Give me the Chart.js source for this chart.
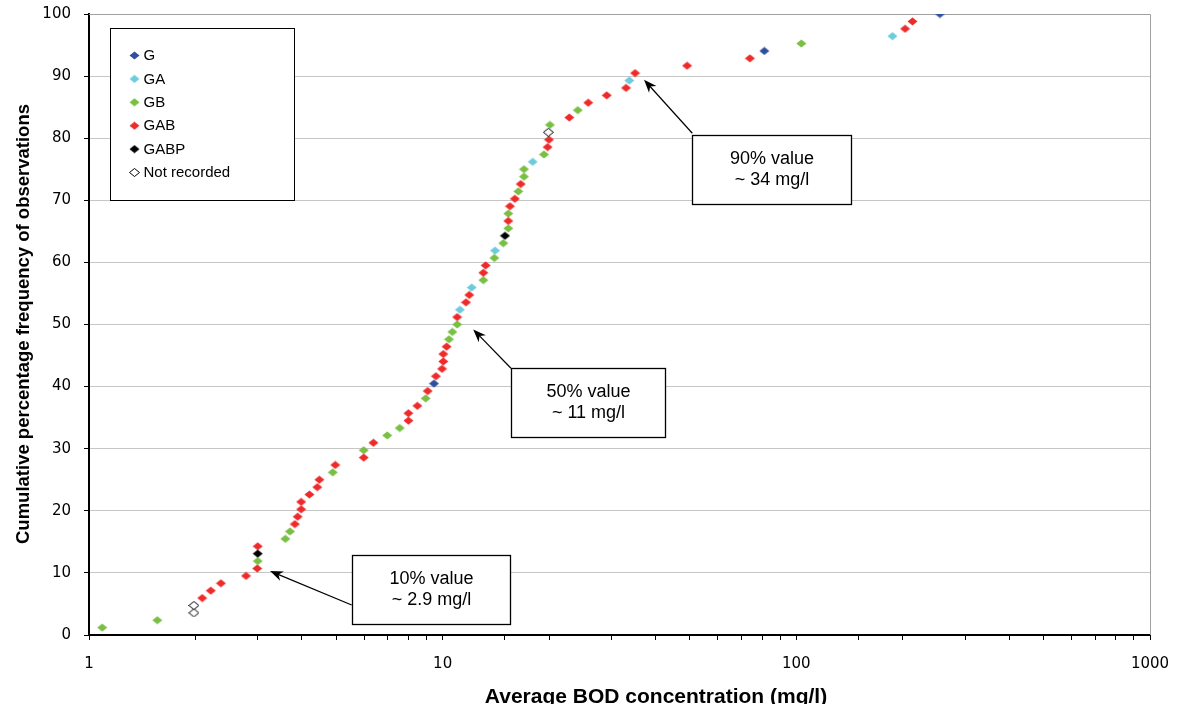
<!DOCTYPE html>
<html><head><meta charset="utf-8">
<script src="https://cdn.jsdelivr.net/npm/chart.js@4.4.1/dist/chart.umd.min.js"></script>
<style>html,body{margin:0;padding:0;background:#fff}#wrap{width:1185px;height:704px;position:relative}</style>
</head><body><div id="wrap"><canvas id="c"></canvas></div>
<script>
// ---- data (BOD mg/l, cumulative %) ----
const seriesNames = ['G', 'GA', 'GB', 'GAB', 'GABP', 'Not recorded'];
const gX = [9.45, 81.2, 254.7];
const gY = [40.48, 94.05, 100];
const gaX = [11.19, 12.08, 14.06, 17.97, 33.7, 187];
const gaY = [52.38, 55.95, 61.90, 76.19, 89.29, 96.43];
const gbX = [1.09, 1.56, 3.0, 3.59, 3.70, 4.89, 5.98, 6.97, 7.56, 8.95, 10.42, 10.65, 10.99, 13.03, 14.0, 14.84, 15.33, 15.33, 16.36, 16.98, 16.98, 19.34, 20.1, 24.1, 103.3];
const gbY = [1.19, 2.38, 11.90, 15.48, 16.67, 26.19, 29.76, 32.14, 33.33, 38.10, 47.62, 48.81, 50.00, 57.14, 60.71, 63.10, 65.48, 67.86, 71.43, 73.81, 75.00, 77.38, 82.14, 84.52, 95.24];
const gabX = [2.09, 2.21, 2.36, 2.78, 2.99, 3.0, 3.82, 3.89, 3.98, 3.98, 4.20, 4.42, 4.48, 4.97, 5.98, 6.37, 8.0, 8.0, 8.48, 9.07, 9.57, 9.96, 10.04, 10.04, 10.26, 10.99, 11.64, 11.89, 13.03, 13.23, 15.33, 15.5, 16.0, 16.62, 19.8, 19.98, 22.8, 25.8, 29.1, 33.0, 35.0, 49.1, 73.9, 203, 213];
const gabY = [5.95, 7.14, 8.33, 9.52, 10.71, 14.29, 17.86, 19.05, 20.24, 21.43, 22.62, 23.81, 25.00, 27.38, 28.57, 30.95, 34.52, 35.71, 36.90, 39.29, 41.67, 42.86, 44.05, 45.24, 46.43, 51.19, 53.57, 54.76, 58.33, 59.52, 66.67, 69.05, 70.24, 72.62, 78.57, 79.76, 83.33, 85.71, 86.90, 88.10, 90.48, 91.67, 92.86, 97.62, 98.81];
const gabpX = [3.0, 15.0];
const gabpY = [13.10, 64.29];
const nrX = [1.98, 1.98, 19.9];
const nrY = [3.57, 4.76, 80.95];
const xTickLabels = [1, 10, 100, 1000];
const yTickLabels = [0, 10, 20, 30, 40, 50, 60, 70, 80, 90, 100];
const noteTexts = [['90% value', '~ 34 mg/l'], ['50% value', '~ 11 mg/l'], ['10% value', '~ 2.9 mg/l']];

// ---- styling ----
const colors = ['#2f4f9e', '#6ecbdc', '#78bf44', '#ee2a2a', '#000000', '#ffffff'];
function diamond(fill, stroke) {
  const c = document.createElement('canvas');
  c.width = 11; c.height = 9;
  const g = c.getContext('2d');
  g.beginPath();
  g.moveTo(5.5, 0.5); g.lineTo(10.5, 4.5); g.lineTo(5.5, 8.5); g.lineTo(0.5, 4.5); g.closePath();
  g.fillStyle = fill; g.fill();
  if (stroke) { g.strokeStyle = stroke; g.lineWidth = 1; g.stroke(); }
  return c;
}
const markers = colors.map((c, i) => diamond(c, i === 5 ? '#000' : null));
const pts = (xs, ys) => xs.map((x, i) => ({x: x, y: ys[i]}));
const allX = [gX, gaX, gbX, gabX, gabpX, nrX];
const allY = [gY, gaY, gbY, gabY, gabpY, nrY];

const datasets = seriesNames.map((name, i) => ({
  label: name,
  data: pts(allX[i], allY[i]),
  pointStyle: markers[i],
  pointRadius: 5,
  backgroundColor: colors[i],
  borderColor: colors[i],
  showLine: false,
  order: seriesNames.length - i
}));

// annotation layout (data coordinates)
const notes = [
  {text: noteTexts[0], box: [50.8, 80.5, 142.4, 69.4], tail: [50.8, 80.8], tip: [37.1, 89.4]},
  {text: noteTexts[1], box: [15.6, 42.95, 42.5, 31.84], tail: [15.6, 42.95], tip: [12.2, 49.2]},
  {text: noteTexts[2], box: [5.53, 12.88, 15.5, 1.77], tail: [5.53, 4.83], tip: [3.25, 10.3]}
];

function drawArrow(ctx, x1, y1, x2, y2) {
  const ang = Math.atan2(y2 - y1, x2 - x1);
  const len = 13, w = 5;
  ctx.beginPath();
  ctx.moveTo(x1, y1);
  ctx.lineTo(x2 - Math.cos(ang) * 8, y2 - Math.sin(ang) * 8);
  ctx.strokeStyle = '#000'; ctx.lineWidth = 1.2; ctx.stroke();
  ctx.save();
  ctx.translate(x2, y2); ctx.rotate(ang);
  ctx.beginPath();
  ctx.moveTo(0, 0); ctx.lineTo(-len, -w); ctx.lineTo(-len * 0.7, 0); ctx.lineTo(-len, w); ctx.closePath();
  ctx.fillStyle = '#000'; ctx.fill();
  ctx.restore();
}

const decor = {
  id: 'decor',
  beforeDatasetsDraw(chart) {
    const {ctx, chartArea: a} = chart;
    ctx.save();
    ctx.strokeStyle = '#a0a0a0'; ctx.lineWidth = 1;
    ctx.beginPath();
    ctx.moveTo(a.left, a.top + 0.5); ctx.lineTo(a.right + 0.5, a.top + 0.5); ctx.lineTo(a.right + 0.5, a.bottom);
    ctx.stroke();
    ctx.restore();
  },
  afterDraw(chart) {
    const {ctx, scales: {x, y}} = chart;
    ctx.save();
    // annotations
    notes.forEach(n => {
      const l = Math.round(x.getPixelForValue(n.box[0])) + 0.5, t = Math.round(y.getPixelForValue(n.box[1])) + 0.5;
      const r = Math.round(x.getPixelForValue(n.box[2])) + 0.5, b = Math.round(y.getPixelForValue(n.box[3])) + 0.5;
      drawArrow(ctx, x.getPixelForValue(n.tail[0]), y.getPixelForValue(n.tail[1]), x.getPixelForValue(n.tip[0]), y.getPixelForValue(n.tip[1]));
      ctx.fillStyle = '#fff'; ctx.fillRect(l, t, r - l, b - t);
      ctx.strokeStyle = '#000'; ctx.lineWidth = 1.3; ctx.strokeRect(l, t, r - l, b - t);
      ctx.fillStyle = '#000'; ctx.font = '18px "Liberation Sans", Arial, sans-serif';
      ctx.textAlign = 'center'; ctx.textBaseline = 'middle';
      const cx = (l + r) / 2, cy = (t + b) / 2;
      ctx.fillText(n.text[0], cx, cy - 10.5);
      ctx.fillText(n.text[1], cx, cy + 10.5);
    });
    // legend
    ctx.fillStyle = '#fff'; ctx.fillRect(110.5, 28.5, 184, 172);
    ctx.strokeStyle = '#000'; ctx.lineWidth = 1; ctx.strokeRect(110.5, 28.5, 184, 172);
    ctx.font = '15px "Liberation Sans", Arial, sans-serif';
    ctx.textAlign = 'left'; ctx.textBaseline = 'middle';
    chart.data.datasets.forEach((ds, i) => {
      const yy = 55.5 + i * 23.4;
      ctx.drawImage(markers[i], 134.5 - 5.5, yy - 4.5);
      ctx.fillStyle = '#000';
      ctx.fillText(ds.label, 143.5, yy + 0.5);
    });
    // axis titles
    ctx.font = 'bold 21px "Liberation Sans", Arial, sans-serif';
    ctx.textAlign = 'center'; ctx.textBaseline = 'alphabetic';
    ctx.fillText('Average BOD concentration (mg/l)', 656, 702.5);
    ctx.save();
    ctx.translate(28.5, 324); ctx.rotate(-Math.PI / 2);
    ctx.font = 'bold 18.5px "Liberation Sans", Arial, sans-serif';
    ctx.fillText('Cumulative percentage frequency of observations', 0, 0);
    ctx.restore();
    ctx.restore();
  }
};

new Chart(document.getElementById('c'), {
  type: 'scatter',
  data: {datasets: datasets},
  options: {
    responsive: true, maintainAspectRatio: false, animation: false,
    layout: {padding: {top: 14, right: 35, bottom: 0, left: 0}},
    plugins: {legend: {display: false}, tooltip: {enabled: false}},
    scales: {
      x: {
        type: 'logarithmic', min: 1, max: 1000,
        afterFit(s) { s.height = 69; s.paddingLeft = 0; s.paddingRight = 0; },
        grid: {drawOnChartArea: false, drawTicks: true, tickLength: 5, tickColor: '#000', tickWidth: 1},
        border: {display: true, color: '#000', width: 2},
        ticks: {
          autoSkip: false, maxRotation: 0, padding: 15, color: '#000',
          font: {family: '"DejaVu Sans", sans-serif', size: 15},
          callback: (v) => xTickLabels.includes(v) ? String(v) : ''
        }
      },
      y: {
        min: 0, max: 100,
        afterFit(s) { s.width = 89; s.paddingTop = 0; s.paddingBottom = 0; },
        afterBuildTicks(s) { s.ticks = yTickLabels.map(v => ({value: v})); },
        grid: {color: '#c6c6c6', lineWidth: 1, tickLength: 5, tickColor: '#000'},
        border: {display: true, color: '#000', width: 2},
        ticks: {padding: 13, color: '#000', font: {family: '"DejaVu Sans", sans-serif', size: 15}}
      }
    }
  },
  plugins: [decor]
});
</script>
</body></html>
